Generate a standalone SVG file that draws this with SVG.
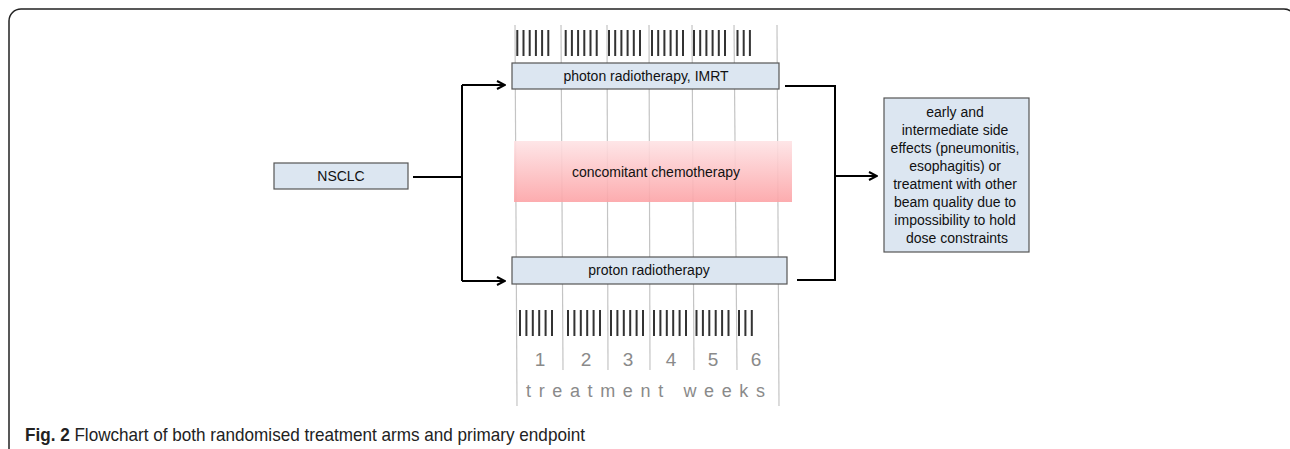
<svg xmlns="http://www.w3.org/2000/svg" width="1290" height="449" viewBox="0 0 1290 449">
  <defs>
    <linearGradient id="chemoFill" x1="0" y1="0" x2="0" y2="1">
      <stop offset="0" stop-color="#fee3e5"/>
      <stop offset="1" stop-color="#fca3a6"/>
    </linearGradient>
    <marker id="arrow" viewBox="0 0 10 10" refX="9" refY="5" markerWidth="5" markerHeight="5" orient="auto" markerUnits="strokeWidth">
      <path d="M1,1 L9,5 L1,9" fill="none" stroke="#000" stroke-width="2"/>
    </marker>
    <style>
      .box { fill: #dce6f1; stroke: #555; stroke-width: 1.2; }
      .lbl { font-family: "Liberation Sans", Arial, sans-serif; font-size: 14px; fill: #111; text-anchor: middle; }
      .grid { stroke: #c4c4c4; stroke-width: 1.2; }
      .tick { stroke: #333; stroke-width: 2; }
      .conn { fill: none; stroke: #000; stroke-width: 2; }
      .week { font-family: "Liberation Sans", Arial, sans-serif; font-size: 19px; fill: #8a8a8a; text-anchor: middle; }
    </style>
  </defs>

  <rect width="1290" height="449" fill="#fff"/>

  <!-- figure frame -->
  <rect x="9" y="9" width="1287" height="470" rx="12" fill="none" stroke="#222" stroke-width="1.5"/>

  <!-- week grid lines -->
  <g id="grid">
    <line class="grid" x1="515" y1="25" x2="517" y2="406"/>
    <line class="grid" x1="561" y1="25" x2="563" y2="370"/>
    <line class="grid" x1="607" y1="25" x2="608" y2="370"/>
    <line class="grid" x1="649" y1="25" x2="650" y2="370"/>
    <line class="grid" x1="692" y1="25" x2="694" y2="370"/>
    <line class="grid" x1="734" y1="25" x2="737" y2="370"/>
    <line class="grid" x1="777" y1="25" x2="779" y2="406"/>
  </g>

  <!-- concomitant chemotherapy band -->
  <g id="chemo">
    <rect x="514" y="141" width="278" height="61" fill="url(#chemoFill)" opacity="0.9"/>
    <text class="lbl" x="656" y="177" font-size="15">concomitant chemotherapy</text>
  </g>

  <!-- fractions, photon arm -->
  <g id="ticks-top">
    <path class="tick" d="M517.3 30V56M523.5 30V56M529.7 30V56M535.9 30V56M542.1 30V56M548.3 30V56
      M565.7 30V56M571.9 30V56M578.1 30V56M584.3 30V56M590.5 30V56M596.7 30V56
      M609 30V56M615.2 30V56M621.4 30V56M627.6 30V56M633.8 30V56M640 30V56
      M652 30V56M658.2 30V56M664.4 30V56M670.6 30V56M676.8 30V56M683 30V56
      M694 30V56M700.2 30V56M706.4 30V56M712.6 30V56M718.8 30V56M725 30V56
      M737.5 30V56M743.7 30V56M749.9 30V56"/>
  </g>

  <!-- fractions, proton arm -->
  <g id="ticks-bottom">
    <path class="tick" d="M520 310V336M526.4 310V336M532.8 310V336M539.2 310V336M545.6 310V336M552 310V336
      M568 310V336M574.4 310V336M580.8 310V336M587.2 310V336M593.6 310V336M600 310V336
      M611 310V336M617.4 310V336M623.8 310V336M630.2 310V336M636.6 310V336M643 310V336
      M654 310V336M660.4 310V336M666.8 310V336M673.2 310V336M679.6 310V336M686 310V336
      M696.5 310V336M702.9 310V336M709.3 310V336M715.7 310V336M722.1 310V336M728.5 310V336
      M739 310V336M745.4 310V336M751.8 310V336"/>
  </g>

  <!-- week numbers -->
  <g id="weeks">
    <text class="week" x="540" y="366">1</text>
    <text class="week" x="586" y="366">2</text>
    <text class="week" x="628" y="366">3</text>
    <text class="week" x="671" y="366">4</text>
    <text class="week" x="713" y="366">5</text>
    <text class="week" x="756" y="366">6</text>
    <text x="526" y="397" font-family="Liberation Sans, Arial, sans-serif" font-size="18" fill="#8a8a8a" textLength="239" lengthAdjust="spacing">treatment weeks</text>
  </g>

  <g id="nsclc">
    <rect class="box" x="274" y="163" width="134" height="26"/>
    <text class="lbl" x="341" y="181">NSCLC</text>
  </g>

  <g id="photon">
    <rect class="box" x="512" y="63" width="267" height="26"/>
    <text class="lbl" x="646" y="81">photon radiotherapy, IMRT</text>
  </g>

  <g id="proton">
    <rect class="box" x="512" y="257" width="275" height="27"/>
    <text class="lbl" x="649" y="275">proton radiotherapy</text>
  </g>

  <g id="endpoint">
    <rect class="box" x="884" y="98" width="145" height="154"/>
    <text class="lbl" font-size="13.5">
      <tspan x="957" y="117">early and</tspan>
      <tspan x="957" y="135">intermediate side</tspan>
      <tspan x="957" y="153">effects (pneumonitis,</tspan>
      <tspan x="957" y="171">esophagitis) or</tspan>
      <tspan x="957" y="189">treatment with other</tspan>
      <tspan x="957" y="207">beam quality due to</tspan>
      <tspan x="957" y="225">impossibility to hold</tspan>
      <tspan x="957" y="243">dose constraints</tspan>
    </text>
  </g>

  <g id="connectors">
    <path class="conn" d="M413 177H462"/>
    <path class="conn" d="M462 85V281"/>
    <path class="conn" d="M462 85H505" marker-end="url(#arrow)"/>
    <path class="conn" d="M462 281H505" marker-end="url(#arrow)"/>
    <path class="conn" d="M785 86H835V280H797"/>
    <path class="conn" d="M835 176H877" marker-end="url(#arrow)"/>
  </g>

  <!-- caption -->
  <text x="25" y="441" font-family="Liberation Sans, Arial, sans-serif" font-size="18.5" fill="#222" textLength="560" lengthAdjust="spacingAndGlyphs"><tspan font-weight="bold">Fig. 2</tspan> Flowchart of both randomised treatment arms and primary endpoint</text>
</svg>
